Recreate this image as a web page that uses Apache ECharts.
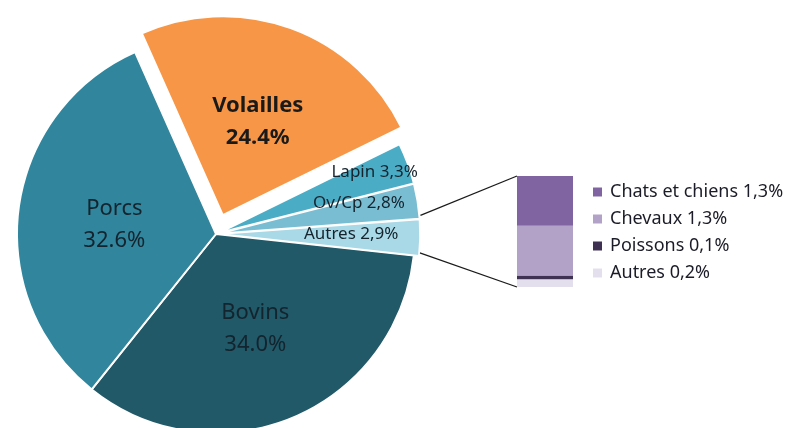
<!DOCTYPE html>
<html>
<head>
<meta charset="utf-8">
<script src="https://cdn.jsdelivr.net/npm/echarts@6/dist/echarts.min.js"></script>
<style>
  html, body { margin: 0; padding: 0; background: #fff; }
  #main { width: 791px; height: 428px; }
</style>
</head>
<body>
<div id="main"></div>
<script>
// répartition principale (%), dans le sens horaire
var pieNames = ['Volailles', 'Lapin', 'Ov/Cp', 'Autres', 'Bovins', 'Porcs'];
var pieValues = [24.4, 3.3, 2.8, 2.9, 34.0, 32.6];
var pieLabels = ['Volailles\n24.4%', 'Lapin 3,3%', 'Ov/Cp 2,8%', 'Autres 2,9%', 'Bovins\n34.0%', 'Porcs\n32.6%'];
// détail de la part "Autres" (barre empilée, du bas vers le haut)
var detailNames = ['Autres', 'Poissons', 'Chevaux', 'Chats et chiens'];
var detailValues = [0.2, 0.1, 1.3, 1.3];
var detailLabels = ['0,2%', '0,1%', '1,3%', '1,3%'];
var legendOrder = ['Chats et chiens', 'Chevaux', 'Poissons', 'Autres'];

var pieColors = ['#f79646', '#4bacc6', '#79bdd3', '#a9d8e6', '#215968', '#31859c'];
var detailColors = ['#e4dfec', '#3f3151', '#b3a2c7', '#8064a2'];
var smallIdx = [1, 2, 3];      // petites parts légèrement détachées
var detailIdx = 3;             // part détaillée dans la barre
// petits décalages des étiquettes
var smallLabelDx = { 1: -2, 2: -26, 3: -36 };
var mainLabelDy = { 0: 3, 5: 2 };

var FONT = 'Noto Sans';
var CX = 216, CY = 234, R = 199, START = 114;
var BIG_OFFSET = 20, SMALL_OFFSET = 5;
var GRID = { left: 517, top: 176, width: 56, height: 111 };

var total = pieValues.reduce(function (a, b) { return a + b; }, 0);
var detailTotal = detailValues.reduce(function (a, b) { return a + b; }, 0);

function isSmall(i) { return smallIdx.indexOf(i) >= 0; }

var hidden = { color: 'transparent', borderWidth: 0 };

// parts principales
var mainData = pieNames.map(function (n, i) {
  if (isSmall(i)) return { name: n, value: pieValues[i], itemStyle: hidden, label: { show: false } };
  return {
    name: n, value: pieValues[i], selected: i === 0,
    itemStyle: { color: pieColors[i] },
    label: i === 0 ? { fontWeight: 'bold', color: '#1a1a1a' } : {}
  };
});
// petites parts
var smallData = pieNames.map(function (n, i) {
  if (!isSmall(i)) return { name: n, value: pieValues[i], itemStyle: hidden };
  return { name: n, value: pieValues[i], selected: true, itemStyle: { color: pieColors[i] } };
});
// anneau invisible pour placer les étiquettes des petites parts
var ringData = pieNames.map(function (n, i) {
  return { name: n, value: pieValues[i], selected: isSmall(i), label: { show: isSmall(i) } };
});

var chart = echarts.init(document.getElementById('main'));
chart.setOption({
  animation: false,
  legend: {
    orient: 'vertical', left: 593, top: 183, padding: 0,
    itemWidth: 9, itemHeight: 9, itemGap: 9, icon: 'rect',
    data: legendOrder,
    selectedMode: false,
    formatter: function (name) {
      return name + ' ' + detailLabels[detailNames.indexOf(name)];
    },
    textStyle: { fontFamily: FONT, fontSize: 18, color: '#1c1c28', padding: [0, 0, 0, 3] }
  },
  grid: GRID,
  xAxis: { type: 'category', data: [''], show: false },
  yAxis: { type: 'value', min: 0, max: detailTotal, show: false },
  series: [
    {
      type: 'pie', name: 'principal', center: [CX, CY], radius: [0, R],
      startAngle: START, selectedMode: 'multiple', selectedOffset: BIG_OFFSET,
      avoidLabelOverlap: false, silent: true,
      itemStyle: { borderColor: '#fff', borderWidth: 2 },
      label: {
        position: 'inside', fontFamily: FONT, fontSize: 22, lineHeight: 32, color: '#13242e',
        formatter: function (p) { return pieLabels[p.dataIndex]; }
      },
      labelLayout: function (p) { return { dy: mainLabelDy[p.dataIndex] || 0 }; },
      labelLine: { show: false },
      data: mainData
    },
    {
      type: 'pie', name: 'petites', center: [CX, CY], radius: [0, R],
      startAngle: START, selectedMode: 'multiple', selectedOffset: SMALL_OFFSET,
      silent: true, label: { show: false }, labelLine: { show: false },
      itemStyle: { borderColor: '#fff', borderWidth: 1.5 },
      data: smallData
    },
    {
      type: 'pie', name: 'etiquettes', center: [CX, CY], radius: [R * 0.64, R],
      startAngle: START, selectedMode: 'multiple', selectedOffset: SMALL_OFFSET,
      silent: true, avoidLabelOverlap: false,
      itemStyle: { color: 'transparent', borderWidth: 0 },
      label: {
        position: 'inside', fontFamily: FONT, fontSize: 17, color: '#15232c',
        formatter: function (p) { return pieLabels[p.dataIndex]; }
      },
      labelLayout: function (p) { return { dx: smallLabelDx[p.dataIndex] || 0, dy: -3 }; },
      labelLine: { show: false },
      data: ringData
    }
  ].concat(detailNames.map(function (n, i) {
    return {
      type: 'bar', name: n, stack: 'detail', barWidth: '100%', silent: true,
      itemStyle: { color: detailColors[i] },
      data: [detailValues[i]]
    };
  }))
});

// lignes de liaison entre la part "Autres" et la barre
var before = pieValues.slice(0, detailIdx).reduce(function (a, b) { return a + b; }, 0);
var a0 = (START - 360 * before / total) * Math.PI / 180;
var a1 = (START - 360 * (before + pieValues[detailIdx]) / total) * Math.PI / 180;
var am = (a0 + a1) / 2;
var ox = CX + Math.cos(am) * SMALL_OFFSET, oy = CY - Math.sin(am) * SMALL_OFFSET;
var rr = R + 1;
var barTop = chart.convertToPixel({ gridIndex: 0 }, [0, detailTotal]);
var barBottom = chart.convertToPixel({ gridIndex: 0 }, [0, 0]);
var lineStyle = { stroke: '#1a1a1a', lineWidth: 1.3 };
chart.setOption({
  graphic: [
    { type: 'line', silent: true, style: lineStyle,
      shape: { x1: ox + Math.cos(a0) * rr, y1: oy - Math.sin(a0) * rr - 4, x2: GRID.left, y2: barTop[1] } },
    { type: 'line', silent: true, style: lineStyle,
      shape: { x1: ox + Math.cos(a1) * rr, y1: oy - Math.sin(a1) * rr - 3, x2: GRID.left, y2: barBottom[1] } }
  ]
});
</script>
</body>
</html>
